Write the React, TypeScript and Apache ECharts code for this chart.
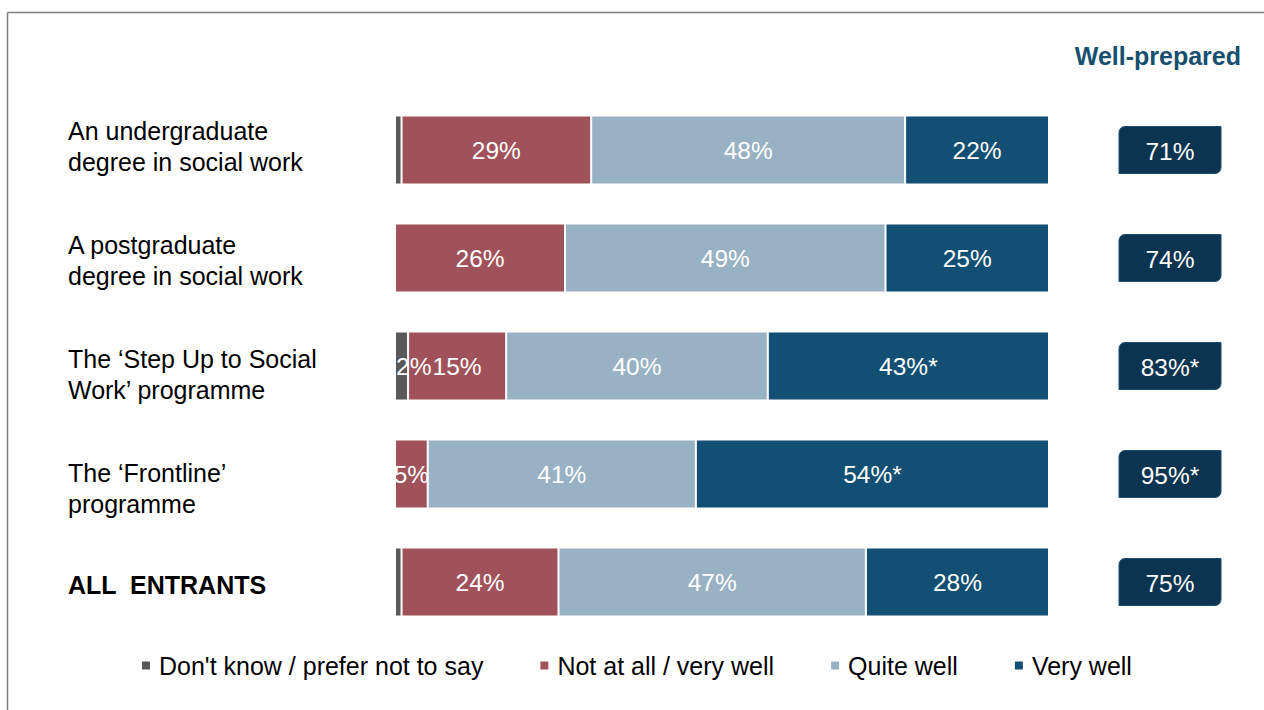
import React, { useEffect, useRef } from "react";
import * as echarts from "echarts";

const categories = [
  "An undergraduate\ndegree in social work",
  "A postgraduate\ndegree in social work",
  "The ‘Step Up to Social\nWork’ programme",
  "The ‘Frontline’\nprogramme",
  "ALL  ENTRANTS",
];
const seriesNames = [
  "Don't know / prefer not to say",
  "Not at all / very well",
  "Quite well",
  "Very well",
];
const dontKnow = [1, 0, 2, 0, 1];
const notAtAll = [29, 26, 15, 5, 24];
const quiteWell = [48, 49, 40, 41, 47];
const veryWell = [22, 25, 43, 54, 28];
const veryWellLabels = ["22%", "25%", "43%*", "54%*", "28%"];
const wellPrepared = [71, 74, 83, 95, 75];
const wellPreparedLabels = ["71%", "74%", "83%*", "95%*", "75%"];

const COLORS = ["#595959", "#A0525A", "#98B2C4", "#124F73"];
const BADGE = "#0B3450";
const FONT = "'Liberation Sans', Arial, sans-serif";
// vertical nudges of the category text boxes relative to their bars (as in the original layout)
const LABEL_NUDGE = [-3.5, 2.5, 8, 14, 3];

export default function App() {
  const ref = useRef<HTMLDivElement>(null);
  useEffect(() => {
    document.body.style.margin = "0";
    const chart = echarts.init(ref.current!, null, { renderer: "svg" });
    const labelBase = {
      show: true,
      position: "inside",
      color: "#fff",
      fontSize: 24.5,
      fontFamily: FONT,
    };
    const barBase = {
      type: "bar",
      stack: "total",
      barWidth: 69,
    };
    const frame = [
      { type: "line", shape: { x1: 7.5, y1: 12.5, x2: 1264, y2: 12.5 }, style: { stroke: "#7F7F7F", lineWidth: 1.5 } },
      { type: "line", shape: { x1: 7.5, y1: 12.5, x2: 7.5, y2: 710 }, style: { stroke: "#7F7F7F", lineWidth: 1.5 } },
    ];
    const option: any = {
      animation: false,
      textStyle: { fontFamily: FONT },
      title: {
        text: "Well-prepared",
        right: 18,
        top: 38,
        textStyle: { fontSize: 25, fontWeight: "bold", color: "#17506F", fontFamily: FONT },
      },
      grid: { left: 395, right: 215, top: 96, bottom: 74, containLabel: false },
      xAxis: {
        type: "value",
        min: 0,
        max: 100,
        show: false,
      },
      yAxis: {
        type: "category",
        data: categories,
        inverse: true,
        axisLine: { show: false },
        axisTick: { show: false },
        splitLine: { show: false },
        axisLabel: { show: false },
      },
      legend: {
        data: seriesNames,
        left: 140,
        top: 653,
        padding: 0,
        icon: "rect",
        itemWidth: 10,
        itemHeight: 10,
        itemGap: 55,
        textStyle: { fontSize: 25, color: "#000", fontFamily: FONT, padding: [0, 0, 0, 3] },
      },
      graphic: frame,
      series: [
        {
          ...barBase,
          name: seriesNames[0],
          itemStyle: { color: COLORS[0], borderColor: "#fff", borderWidth: 1 },
          data: dontKnow.map((v) => ({
            value: v,
            label: { ...labelBase, show: v >= 2, position: "insideLeft", distance: 1, formatter: "{c}%" },
          })),
        },
        {
          ...barBase,
          name: seriesNames[1],
          itemStyle: { color: COLORS[1], borderColor: "#fff", borderWidth: 1 },
          label: { ...labelBase, formatter: "{c}%" },
          data: notAtAll,
        },
        {
          ...barBase,
          name: seriesNames[2],
          itemStyle: { color: COLORS[2], borderColor: "#fff", borderWidth: 1 },
          label: { ...labelBase, formatter: "{c}%" },
          data: quiteWell,
        },
        {
          ...barBase,
          name: seriesNames[3],
          itemStyle: { color: COLORS[3], borderColor: "#fff", borderWidth: 1 },
          label: { ...labelBase, formatter: (p: any) => veryWellLabels[p.dataIndex] },
          data: veryWell,
        },
        {
          type: "custom",
          name: "Well-prepared",
          encode: { x: 0, y: 1 },
          data: wellPrepared.map((v, i) => [0, i, v]),
          renderItem: (params: any, api: any) => {
            const i = params.dataIndex;
            const pt = api.coord([0, i]);
            const cs = params.coordSys;
            const x = cs.x + cs.width + 70;
            const w = 102;
            const h = 47;
            return {
              type: "group",
              children: [
                {
                  type: "rect",
                  shape: { x, y: pt[1] - h / 2, width: w, height: h, r: [6, 0, 6, 0] },
                  style: { fill: BADGE, stroke: "#1F4E6E", lineWidth: 1 },
                },
                {
                  type: "text",
                  x: x + w / 2,
                  y: pt[1] + 1,
                  style: {
                    text: wellPreparedLabels[i],
                    fill: "#fff",
                    fontSize: 24.5,
                    fontFamily: FONT,
                    align: "center",
                    verticalAlign: "middle",
                  },
                },
              ],
            };
          },
        },
      ],
    };
    chart.setOption(option);
    const labels = categories.map((c, i) => {
      const y = chart.convertToPixel({ yAxisIndex: 0 }, c) as number;
      return {
        type: "text",
        x: 68,
        y: y + LABEL_NUDGE[i],
        style: {
          text: c,
          fill: "#000",
          fontSize: 25,
          lineHeight: 31,
          fontFamily: FONT,
          fontWeight: c.startsWith("ALL") ? "bold" : "normal",
          align: "left",
          verticalAlign: "middle",
        },
      };
    });
    chart.setOption({ graphic: [...frame, ...labels] });
    return () => chart.dispose();
  }, []);
  return <div ref={ref} style={{ width: 1264, height: 710 }} />;
}
